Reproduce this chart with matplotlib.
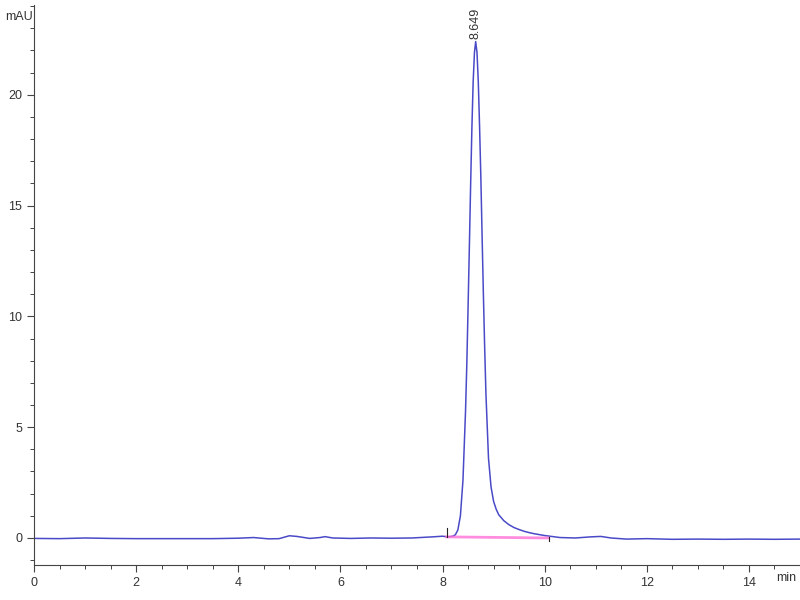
import matplotlib
matplotlib.use("Agg")
import matplotlib.pyplot as plt
from matplotlib.ticker import MultipleLocator

plt.rcParams["font.family"] = ["Liberation Sans", "DejaVu Sans"]

# chromatogram trace (time in min, signal in mAU)
time_min = [0.0, 0.5, 1.0, 1.5, 2.0, 2.5, 3.0, 3.5, 4.0, 4.3, 4.6, 4.8,
            5.0, 5.15, 5.4, 5.6, 5.7, 5.85, 6.2, 6.6, 7.0, 7.4, 7.8, 8.0,
            8.1, 8.15, 8.20, 8.25, 8.30, 8.35, 8.40, 8.45, 8.475, 8.50,
            8.525, 8.55, 8.575, 8.60, 8.625, 8.649, 8.675, 8.70, 8.725,
            8.75, 8.775, 8.80, 8.825, 8.85, 8.90, 8.95, 9.00, 9.05, 9.10,
            9.20, 9.30, 9.40, 9.50, 9.60, 9.70, 9.80, 9.90, 10.0, 10.1,
            10.2, 10.3, 10.6, 10.9, 11.1, 11.3, 11.6, 12.0, 12.5, 13.0,
            13.5, 14.0, 14.5, 15.0]
signal_mau = [-0.02, -0.03, 0.0, -0.02, -0.03, -0.03, -0.03, -0.03, -0.01,
              0.02, -0.04, -0.03, 0.10, 0.07, -0.02, 0.02, 0.06, 0.0, -0.02,
              0.0, -0.01, 0.0, 0.05, 0.08, 0.05, 0.06, 0.08, 0.14, 0.36,
              1.0, 2.6, 5.7, 7.8, 10.4, 13.1, 15.9, 18.5, 20.6, 21.9, 22.4,
              21.9, 20.6, 18.6, 16.3, 13.6, 11.0, 8.6, 6.5, 3.6, 2.3, 1.65,
              1.3, 1.05, 0.78, 0.60, 0.47, 0.38, 0.30, 0.24, 0.19, 0.15,
              0.11, 0.08, 0.05, 0.02, 0.0, 0.05, 0.07, 0.0, -0.05, -0.03,
              -0.06, -0.05, -0.06, -0.05, -0.06, -0.05]

peak_rt = 8.649
peak_height = 22.4
integ_start = 8.08
integ_end = 10.08
base_start = 0.05
base_end = 0.0

fig = plt.figure(figsize=(8, 6), dpi=100)
ax = fig.add_axes([0.0425, 0.0583, 0.9575, 0.9334])

ax.plot(time_min, signal_mau, color="#4a4ac8", lw=1.1)
ax.plot([integ_start, integ_end], [base_start, base_end], color="#ff70d8", lw=2, alpha=0.8)
ax.plot([integ_start, integ_start], [base_start, base_start + 0.4], color="#222222", lw=0.8)
ax.plot([integ_end, integ_end], [base_end - 0.15, base_end + 0.05], color="#222222", lw=0.8)

ax.text(peak_rt, peak_height + 0.1, f"{peak_rt:.3f}", rotation=90, ha="center", va="bottom",
        fontsize=9, color="#333333", clip_on=False)

ax.set_xlim(0, 15)
ax.set_ylim(-1.22, 24.05)
ax.xaxis.set_major_locator(MultipleLocator(2))
ax.xaxis.set_minor_locator(MultipleLocator(0.5))
ax.yaxis.set_major_locator(MultipleLocator(5))
ax.yaxis.set_minor_locator(MultipleLocator(1))

for side in ["top", "right"]:
    ax.spines[side].set_visible(False)
for side in ["left", "bottom"]:
    ax.spines[side].set_color("#444444")
    ax.spines[side].set_linewidth(0.8)

ax.tick_params(which="major", direction="out", length=5, width=0.8, color="#444444",
               labelsize=9, labelcolor="#333333")
ax.tick_params(which="minor", direction="out", length=3, width=0.7, color="#444444")

fig.text(5 / 800, 1 - 17 / 600, "mAU", fontsize=9, color="#333333", va="center")
fig.text(776 / 800, 1 - 578 / 600, "min", fontsize=9, color="#333333", va="center")

fig.savefig("out.png", dpi=100)
